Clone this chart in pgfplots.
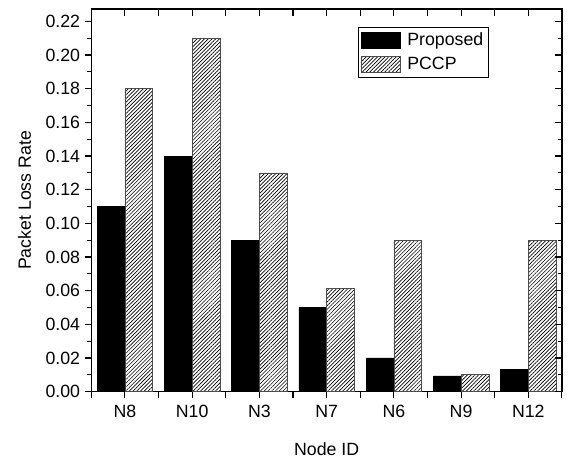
\documentclass[border=0pt]{standalone}
\usepackage{fontspec}
\setmainfont{Liberation Sans}
\usepackage{pgfplots}
\pgfplotsset{compat=1.18}
\usetikzlibrary{patterns.meta}
\begin{document}
\begin{tikzpicture}
\pgfplotsset{
  common/.style={
    width=355.5pt, height=289pt, scale only axis,
    xmin=-0.5, xmax=6.5, ymin=0, ymax=0.2273,
    xtick={-0.5,0,...,6.5},
    ytick={0,0.02,...,0.221},
    minor y tick num=1,
    major tick length=5pt, minor tick length=3pt,
    every tick/.style={black, line width=0.8pt},
    every minor tick/.style={black, line width=0.8pt},
    axis line style={line width=0.9pt},
    font=\fontsize{13.4}{15}\selectfont,
  }
}
\begin{axis}[
  common, name=ax,
  ybar=0pt, bar width=21pt,
  tick align=outside,
  xtick pos=left, ytick pos=left,
  xticklabels={,N8,,N10,,N3,,N7,,N6,,N9,,N12,},
  xticklabel style={yshift=-2pt},
  yticklabel style={/pgf/number format/.cd, fixed, fixed zerofill, precision=2, assume math mode=true},
  xlabel={Node ID}, ylabel={Packet Loss Rate},
  xlabel style={yshift=-12pt},
  ylabel style={yshift=4pt},
  legend style={at={(0.566,0.953)}, anchor=north west, draw=black, line width=0.6pt,
    font=\fontsize{13.4}{15}\selectfont, inner xsep=2pt, inner ysep=2pt, row sep=3.5pt},
  legend cell align=left,
  legend image code/.code={\draw[#1, line width=0.4pt] (0pt,-6pt) rectangle (30pt,6pt); \path[draw=none, fill=none, pattern=none] (0pt,0pt) -- (33pt,0pt);},
]
\addplot[fill=black, draw=black] coordinates {(0,0.11) (1,0.14) (2,0.09) (3,0.05) (4,0.02) (5,0.0094) (6,0.0134)};
\addlegendentry{Proposed}
\addplot[draw=black!70, line width=0.5pt, pattern={Lines[angle=45,distance=2pt,line width=0.5pt]}] coordinates {(0,0.18) (1,0.21) (2,0.13) (3,0.0612) (4,0.09) (5,0.0104) (6,0.09)};
\addlegendentry{PCCP}
\end{axis}
\begin{axis}[
  common,
  axis x line*=top, axis y line*=right,
  tick align=inside,
  xticklabels={}, yticklabels={},
]
\end{axis}
\path ([xshift=-69pt,yshift=-47.25pt]ax.south west) rectangle ([xshift=3.75pt,yshift=5.25pt]ax.north east);
\end{tikzpicture}
\end{document}
